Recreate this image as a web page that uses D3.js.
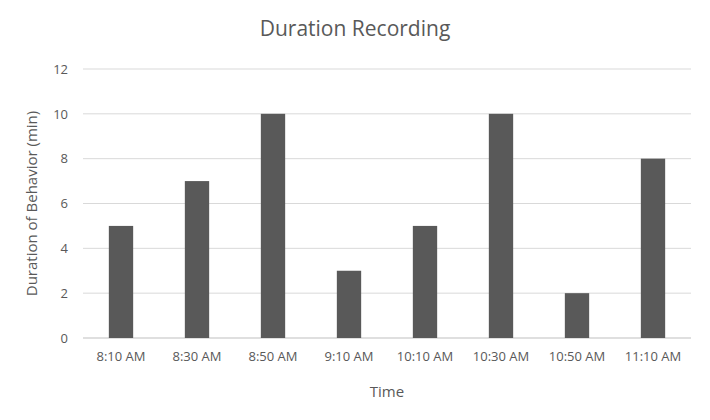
<!DOCTYPE html>
<html>
<head>
<meta charset="utf-8">
<script src="https://cdn.jsdelivr.net/npm/d3@7"></script>
<style>
  body { margin: 0; background: #fff; }
  text { font-family: "Open Sans", "Liberation Sans", sans-serif; fill: #595959; }
</style>
</head>
<body>
<div id="vis"></div>
<script>
// chart data
const TIMES = ["8:10 AM", "8:30 AM", "8:50 AM", "9:10 AM", "10:10 AM", "10:30 AM", "10:50 AM", "11:10 AM"];
const DURATIONS = [5, 7, 10, 3, 5, 10, 2, 8];
const Y_TICKS = [0, 2, 4, 6, 8, 10, 12];

const FRAME_WIDTH = 710;
const FRAME_HEIGHT = 420;
const MARGINS = {left: 83, right: 19, top: 69, bottom: 82};
const VIS_WIDTH = FRAME_WIDTH - MARGINS.left - MARGINS.right;
const VIS_HEIGHT = FRAME_HEIGHT - MARGINS.top - MARGINS.bottom;

const svg = d3.select("#vis").append("svg")
  .attr("width", FRAME_WIDTH)
  .attr("height", FRAME_HEIGHT);

const X_SCALE = d3.scaleBand().domain(TIMES).range([0, VIS_WIDTH]).paddingInner(0.68).paddingOuter(0.34);
const Y_SCALE = d3.scaleLinear().domain([0, 12]).range([VIS_HEIGHT, 0]);

const g = svg.append("g").attr("transform", "translate(" + MARGINS.left + "," + MARGINS.top + ")");

// gridlines
g.selectAll(".grid").data(Y_TICKS).enter().append("line")
  .attr("x1", 0).attr("x2", VIS_WIDTH)
  .attr("y1", d => Y_SCALE(d)).attr("y2", d => Y_SCALE(d))
  .attr("stroke", d => d === 0 ? "#bfbfbf" : "#d9d9d9")
  .attr("stroke-width", 1);

// bars
g.selectAll("rect").data(DURATIONS).enter().append("rect")
  .attr("x", (d, i) => X_SCALE(TIMES[i]))
  .attr("y", d => Y_SCALE(d))
  .attr("width", X_SCALE.bandwidth())
  .attr("height", d => VIS_HEIGHT - Y_SCALE(d))
  .attr("fill", "#595959");

// y axis
const yAxis = g.append("g").call(d3.axisLeft(Y_SCALE).tickValues(Y_TICKS).tickSize(0).tickPadding(15));
yAxis.select(".domain").remove();
yAxis.selectAll("text").attr("font-size", "13px").style("fill", "#595959");

// x axis
const xAxis = g.append("g").attr("transform", "translate(0," + VIS_HEIGHT + ")")
  .call(d3.axisBottom(X_SCALE).tickSize(0).tickPadding(14));
xAxis.select(".domain").remove();
xAxis.selectAll("text").attr("font-size", "13px").style("fill", "#595959");

// title
svg.append("text").attr("x", 355).attr("y", 36).attr("text-anchor", "middle")
  .attr("font-size", "21px").text("Duration Recording");

// axis titles
svg.append("text").attr("x", MARGINS.left + VIS_WIDTH / 2).attr("y", 397)
  .attr("text-anchor", "middle").attr("font-size", "15px").text("Time");
svg.append("text").attr("transform", "translate(37," + (MARGINS.top + VIS_HEIGHT / 2) + ") rotate(-90)")
  .attr("text-anchor", "middle").attr("font-size", "15px").text("Duration of Behavior (min)");
</script>
</body>
</html>
